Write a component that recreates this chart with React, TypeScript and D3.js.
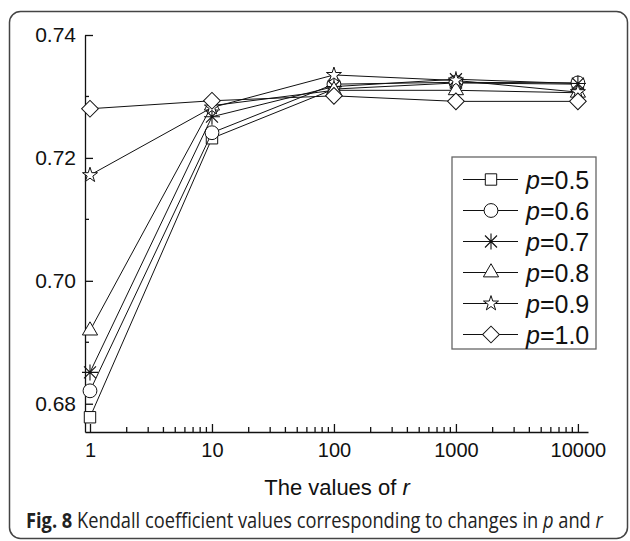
import React, { useEffect, useRef } from 'react';
import * as d3 from 'd3';

// values of r (x axis, log scale)
const rValues = [1, 10, 100, 1000, 10000];
const yTickValues = [0.68, 0.7, 0.72, 0.74];
const yMinorTicks = [0.69, 0.71, 0.73];
const pLabels = ['0.5', '0.6', '0.7', '0.8', '0.9', '1.0'];

// Kendall coefficient for each p, read at r = 1, 10, 100, 1000, 10000
const p05 = [0.6778, 0.7232, 0.7312, 0.7322, 0.732];
const p06 = [0.6821, 0.7241, 0.732, 0.7323, 0.7322];
const p07 = [0.6851, 0.7267, 0.7316, 0.7328, 0.7321];
const p08 = [0.6919, 0.7285, 0.731, 0.731, 0.7306];
const p09 = [0.7172, 0.7282, 0.7335, 0.7326, 0.7307];
const p10 = [0.728, 0.7293, 0.7301, 0.7292, 0.7292];

const seriesValues = [p05, p06, p07, p08, p09, p10];
const markerTypes = ['square', 'circle', 'asterisk', 'triangle', 'star', 'diamond'];

const font = '"Liberation Sans", Arial, sans-serif';

const App = () => {
  const svgRef = useRef<SVGSVGElement>(null);

  useEffect(() => {
    const svg = d3.select(svgRef.current);
    svg.selectAll('*').remove();

    const x = d3.scaleLog().domain([0.91, 12100]).range([85, 588]);
    const y = d3.scaleLinear().domain([0.6754, 0.74]).range([432, 35]);

    // outer frame
    svg.append('rect')
      .attr('x', 9.5).attr('y', 11.5)
      .attr('width', 618).attr('height', 527)
      .attr('rx', 11)
      .attr('fill', 'white')
      .attr('stroke', '#444')
      .attr('stroke-width', 1.5);

    const drawMarker = (g, type, cx, cy) => {
      if (type === 'asterisk') {
        const a = 8;
        const d = 6;
        g.append('path')
          .attr('d', `M${cx},${cy - a}L${cx},${cy + a}M${cx - d},${cy - d}L${cx + d},${cy + d}M${cx - d},${cy + d}L${cx + d},${cy - d}M${cx - a},${cy}L${cx + a},${cy}`)
          .attr('stroke', '#111').attr('stroke-width', 1.1).attr('fill', 'none');
        return;
      }
      let sym;
      let rot = 0;
      if (type === 'square') sym = d3.symbol(d3.symbolSquare, 130);
      else if (type === 'circle') sym = d3.symbol(d3.symbolCircle, 150);
      else if (type === 'triangle') sym = d3.symbol(d3.symbolTriangle, 100);
      else if (type === 'star') sym = d3.symbol(d3.symbolStar, 70);
      else { sym = d3.symbol(d3.symbolSquare, 140); rot = 45; }
      g.append('path')
        .attr('d', sym())
        .attr('transform', `translate(${cx},${cy}) rotate(${rot})`)
        .attr('fill', 'white')
        .attr('stroke', '#111')
        .attr('stroke-width', 1);
    };

    // axes
    const yAxis = svg.append('g')
      .attr('transform', 'translate(85,0)')
      .call(d3.axisLeft(y).tickValues(yTickValues).tickSize(-8).tickSizeOuter(0).tickPadding(9).tickFormat(d3.format('.2f')));
    yAxis.selectAll('text').attr('font-size', 21).attr('font-family', font).attr('fill', '#111');
    yAxis.selectAll('line, path').attr('stroke', '#111').attr('stroke-width', 1.3);

    svg.append('g').selectAll('line')
      .data(yMinorTicks)
      .enter().append('line')
      .attr('x1', 85).attr('x2', 89)
      .attr('y1', d => y(d)).attr('y2', d => y(d))
      .attr('stroke', '#111').attr('stroke-width', 1.3);

    const xAxis = svg.append('g')
      .attr('transform', 'translate(0,432)')
      .call(d3.axisBottom(x).tickValues(rValues).tickSize(-8).tickSizeOuter(0).tickPadding(11).tickFormat(d3.format('d')));
    xAxis.selectAll('text').attr('font-size', 20).attr('font-family', font).attr('fill', '#111');
    xAxis.selectAll('line, path').attr('stroke', '#111').attr('stroke-width', 1.3);

    const xMinor = [];
    for (let k = 0; k < 4; k++) for (let m = 2; m <= 9; m++) xMinor.push(m * 10 ** k);
    svg.append('g').selectAll('line')
      .data(xMinor)
      .enter().append('line')
      .attr('x1', d => x(d)).attr('x2', d => x(d))
      .attr('y1', 432).attr('y2', 427)
      .attr('stroke', '#111').attr('stroke-width', 1.3);

    // series
    const line = d3.line<number>()
      .x((d, i) => x(rValues[i]))
      .y(d => y(d));

    seriesValues.forEach((vals, si) => {
      const g = svg.append('g');
      g.append('path')
        .datum(vals)
        .attr('fill', 'none')
        .attr('stroke', '#111')
        .attr('stroke-width', 1)
        .attr('d', line);
      vals.forEach((v, i) => drawMarker(g, markerTypes[si], x(rValues[i]), y(v)));
    });

    // legend
    const legend = svg.append('g');
    legend.append('rect')
      .attr('x', 452).attr('y', 157)
      .attr('width', 144).attr('height', 192)
      .attr('fill', 'white')
      .attr('stroke', '#666')
      .attr('stroke-width', 1.3);
    pLabels.forEach((lab, i) => {
      const ly = 179.5 + i * 31;
      legend.append('line')
        .attr('x1', 463).attr('x2', 518)
        .attr('y1', ly).attr('y2', ly)
        .attr('stroke', '#111').attr('stroke-width', 1);
      drawMarker(legend, markerTypes[i], 491, ly);
      const t = legend.append('text')
        .attr('x', 526).attr('y', ly + 9)
        .attr('font-size', 25)
        .attr('font-family', font)
        .attr('fill', '#111');
      t.append('tspan').attr('font-style', 'italic').text('p');
      t.append('tspan').text('=' + lab);
    });

    // axis title
    const title = svg.append('text')
      .attr('x', 337).attr('y', 495)
      .attr('text-anchor', 'middle')
      .attr('font-size', 22)
      .attr('font-family', font)
      .attr('fill', '#111');
    title.append('tspan').text('The values of ');
    title.append('tspan').attr('font-style', 'italic').text('r');

    // caption, squeezed horizontally to look condensed
    const capG = svg.append('g');
    const cap = capG.append('text')
      .attr('x', 0).attr('y', 0)
      .attr('font-size', 21)
      .attr('font-family', '"Open Sans", "Noto Sans", sans-serif')
      .attr('fill', '#222');
    cap.append('tspan').attr('font-weight', 'bold').text('Fig. 8');
    cap.append('tspan').text(' Kendall coefficient values corresponding to changes in ');
    cap.append('tspan').attr('font-style', 'italic').text('p');
    cap.append('tspan').text(' and ');
    cap.append('tspan').attr('font-style', 'italic').text('r');
    const w = (cap.node() as SVGTextElement).getComputedTextLength() || 577;
    capG.attr('transform', `translate(26,528) scale(${577 / w},1)`);
  }, []);

  return (
    <svg
      ref={svgRef}
      width={630}
      height={541}
      style={{ position: 'absolute', left: 0, top: 0, background: 'white' }}
    />
  );
};

export default App;
